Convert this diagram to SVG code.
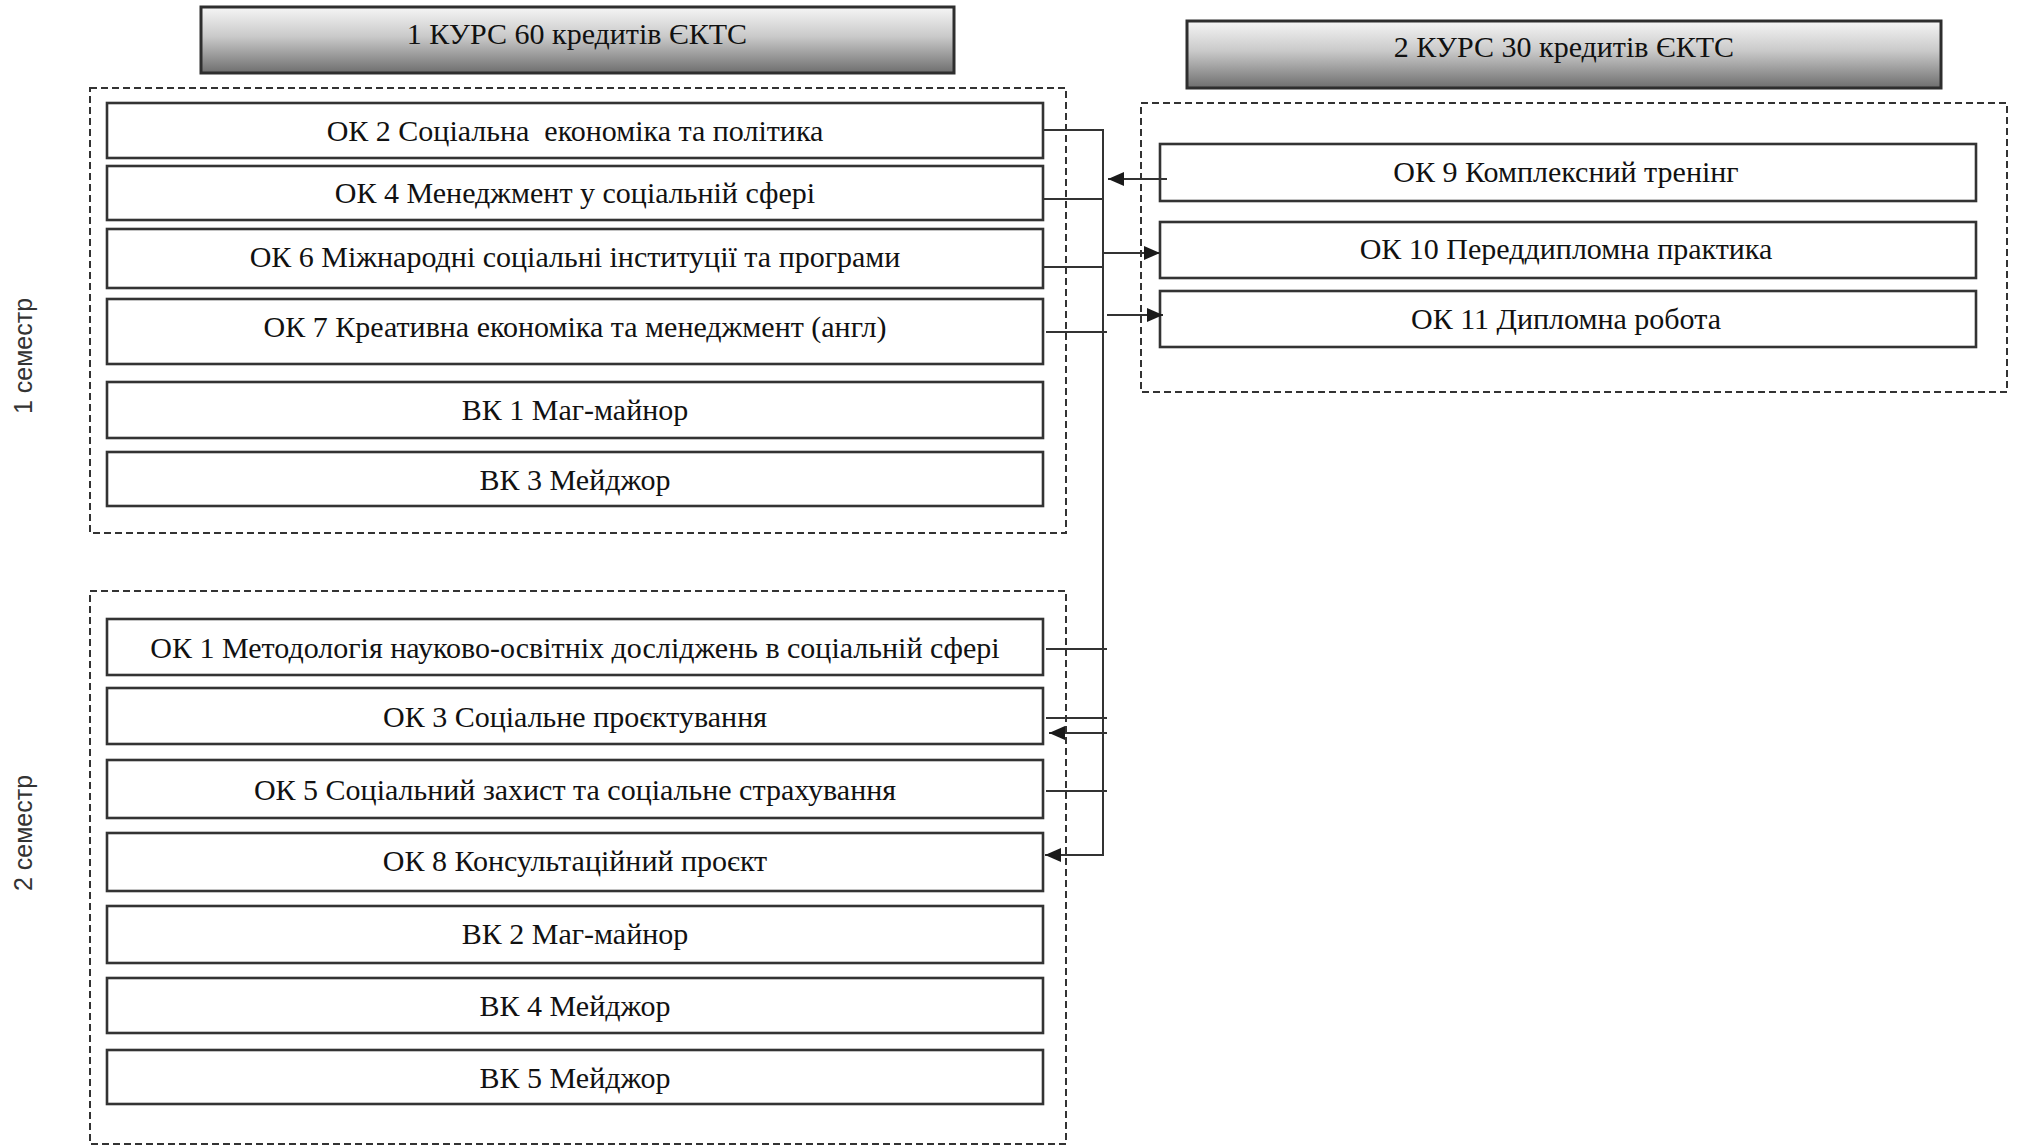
<svg xmlns="http://www.w3.org/2000/svg" width="2018" height="1147" viewBox="0 0 2018 1147">
<style>
.bg{fill:#ffffff}
.hdr{fill:url(#hg);stroke:#2e2e2e;stroke-width:3}
.box{fill:#ffffff;stroke:#333333;stroke-width:2.6}
.dash{fill:none;stroke:#333333;stroke-width:2;stroke-dasharray:7 4}
.t{font-family:"Liberation Serif","Times New Roman",serif;font-size:30px;fill:#111111;text-anchor:middle;white-space:pre}
.sem{font-family:"Liberation Sans",Arial,sans-serif;font-size:25px;fill:#333333;text-anchor:middle}
.c{fill:none;stroke:#333333;stroke-width:2}
.a{marker-end:url(#ah)}
</style>
<defs>
<linearGradient id="hg" x1="0" y1="0" x2="0" y2="1">
<stop offset="0" stop-color="#f6f6f6"/>
<stop offset="0.45" stop-color="#c9c9c9"/>
<stop offset="1" stop-color="#6e6e6e"/>
</linearGradient>
<marker id="ah" markerUnits="userSpaceOnUse" markerWidth="16" markerHeight="14" refX="16" refY="7" orient="auto">
<path d="M0,0 L16,7 L0,14 z" fill="#1a1a1a"/>
</marker>
</defs>
<rect class="bg" x="0" y="0" width="2018" height="1147"/>

<g id="headers">
<g id="h1"><rect class="hdr" x="201" y="7" width="753" height="66"/><text class="t" x="577" y="44">1 КУРС 60 кредитів ЄКТС</text></g>
<g id="h2"><rect class="hdr" x="1187" y="21" width="754" height="67"/><text class="t" x="1564" y="57">2 КУРС 30 кредитів ЄКТС</text></g>
</g>

<g id="groups">
<rect id="sem1-frame" class="dash" x="90" y="88" width="976" height="445"/>
<rect id="sem2-frame" class="dash" x="90" y="591" width="976" height="553"/>
<rect id="course2-frame" class="dash" x="1141" y="103" width="866" height="289"/>
<text id="sem1-label" class="sem" transform="translate(32,356) rotate(-90)">1 семестр</text>
<text id="sem2-label" class="sem" transform="translate(32,833) rotate(-90)">2 семестр</text>
</g>

<g id="ok2"><rect class="box" x="107" y="103" width="936" height="55"/><text class="t" x="575" y="141" xml:space="preserve">ОК 2 Соціальна  економіка та політика</text></g>
<g id="ok4"><rect class="box" x="107" y="166" width="936" height="54"/><text class="t" x="575" y="203">ОК 4 Менеджмент у соціальній сфері</text></g>
<g id="ok6"><rect class="box" x="107" y="229" width="936" height="59"/><text class="t" x="575" y="267">ОК 6 Міжнародні соціальні інституції та програми</text></g>
<g id="ok7"><rect class="box" x="107" y="299" width="936" height="65"/><text class="t" x="575" y="337">ОК 7 Креативна економіка та менеджмент (англ)</text></g>
<g id="vk1"><rect class="box" x="107" y="382" width="936" height="56"/><text class="t" x="575" y="420">ВК 1 Маг-майнор</text></g>
<g id="vk3"><rect class="box" x="107" y="452" width="936" height="54"/><text class="t" x="575" y="490">ВК 3 Мейджор</text></g>

<g id="ok1"><rect class="box" x="107" y="619" width="936" height="56"/><text class="t" x="575" y="658">ОК 1 Методологія науково-освітніх досліджень в соціальній сфері</text></g>
<g id="ok3"><rect class="box" x="107" y="688" width="936" height="56"/><text class="t" x="575" y="727">ОК 3 Соціальне проєктування</text></g>
<g id="ok5"><rect class="box" x="107" y="760" width="936" height="58"/><text class="t" x="575" y="800">ОК 5 Соціальний захист та соціальне страхування</text></g>
<g id="ok8"><rect class="box" x="107" y="833" width="936" height="58"/><text class="t" x="575" y="871">ОК 8 Консультаційний проєкт</text></g>
<g id="vk2"><rect class="box" x="107" y="906" width="936" height="57"/><text class="t" x="575" y="944">ВК 2 Маг-майнор</text></g>
<g id="vk4"><rect class="box" x="107" y="978" width="936" height="55"/><text class="t" x="575" y="1016">ВК 4 Мейджор</text></g>
<g id="vk5"><rect class="box" x="107" y="1050" width="936" height="54"/><text class="t" x="575" y="1088">ВК 5 Мейджор</text></g>

<g id="ok9"><rect class="box" x="1160" y="144" width="816" height="57"/><text class="t" x="1566" y="182">ОК 9 Комплексний тренінг</text></g>
<g id="ok10"><rect class="box" x="1160" y="222" width="816" height="56"/><text class="t" x="1566" y="259">ОК 10 Переддипломна практика</text></g>
<g id="ok11"><rect class="box" x="1160" y="291" width="816" height="56"/><text class="t" x="1566" y="329">ОК 11 Дипломна робота</text></g>

<g id="connectors">
<path class="c a" d="M1043,130 H1103 V855 H1045"/>
<path class="c" d="M1043,199 H1103"/>
<path class="c" d="M1043,267 H1103"/>
<path class="c" d="M1046,332 H1107"/>
<path class="c" d="M1046,649 H1107"/>
<path class="c" d="M1046,718 H1107"/>
<path class="c" d="M1046,791 H1107"/>
<path class="c a" d="M1167,179 H1108"/>
<path class="c a" d="M1103,253 H1160"/>
<path class="c a" d="M1107,315 H1163"/>
<path class="c a" d="M1107,733 H1049"/>
</g>
</svg>
